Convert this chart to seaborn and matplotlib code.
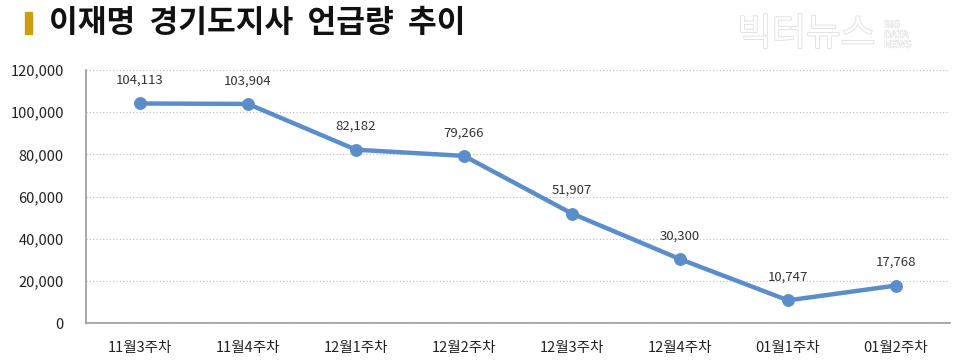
import matplotlib
matplotlib.use("Agg")
import matplotlib.pyplot as plt
import matplotlib.patheffects as pe
import seaborn as sns
import pandas as pd
import numpy as np

# chart data
weeks = ["11월3주차", "11월4주차", "12월1주차", "12월2주차",
         "12월3주차", "12월4주차", "01월1주차", "01월2주차"]
mentions = [104113, 103904, 82182, 79266, 51907, 30300, 10747, 17768]
y_ticks = [0, 20000, 40000, 60000, 80000, 100000, 120000]

sns.set_theme(style="white")
plt.rcParams["font.family"] = ["Noto Sans CJK KR", "DejaVu Sans"]

df = pd.DataFrame({"week": weeks, "count": mentions})
df["pos"] = np.arange(len(weeks))

fig = plt.figure(figsize=(9.6, 3.64), dpi=100)
ax = fig.add_axes([0.0896, 0.1126, 0.9, 0.6951])

line_color = "#5B8DCA"
sns.lineplot(data=df, x="pos", y="count", ax=ax, color=line_color,
             linewidth=3.2, marker="o", markersize=8.5,
             markeredgecolor=line_color, markerfacecolor=line_color)

for x, y in zip(df["pos"], df["count"]):
    ax.annotate(f"{y:,}", (x, y), xytext=(0, 12), textcoords="offset points",
                ha="center", va="bottom", fontsize=9.5, color="#333333")

ax.set_xlim(-0.5, len(weeks) - 0.5)
ax.set_ylim(0, 120000)
ax.set_yticks(y_ticks)
ax.set_yticklabels([f"{v:,}" for v in y_ticks], fontsize=10.5, color="#222222")
ax.set_xticks(df["pos"])
ax.set_xticklabels(weeks, fontsize=10.5, color="#222222")
ax.set_xticks(np.arange(-0.5, len(weeks)), minor=True)
ax.tick_params(axis="x", which="major", length=0, pad=13)
ax.tick_params(axis="x", which="minor", length=5, color="#999999", width=1, direction="out")
ax.tick_params(axis="y", length=4, color="#999999", width=1, direction="out", pad=12)
ax.set_xlabel("")
ax.set_ylabel("")

ax.yaxis.grid(True, linestyle=(0, (1, 2)), color="#BBBBBB", linewidth=0.8)
ax.set_axisbelow(True)
for side in ["top", "right"]:
    ax.spines[side].set_visible(False)
for side in ["left", "bottom"]:
    ax.spines[side].set_color("#999999")
    ax.spines[side].set_linewidth(1.2)

# title with gold marker
fig.patches.append(plt.Rectangle((0.026, 0.907), 0.007, 0.06, transform=fig.transFigure,
                                 color="#C9A011", zorder=5))
fig.text(0.051, 0.937, "이재명  경기도지사  언급량  추이", fontsize=22.5, fontweight="bold",
         color="#111111", va="center", ha="left")

# watermark (outlined)
outline = [pe.withStroke(linewidth=1.2, foreground="#DDDDDD")]
fig.text(0.768, 0.905, "빅터뉴스", fontsize=27, color="white",
         va="center", ha="left", path_effects=outline)
fig.text(0.921, 0.905, "BIG\nDATA\nNEWS", fontsize=7, color="white",
         va="center", ha="left", linespacing=1.0,
         path_effects=[pe.withStroke(linewidth=0.8, foreground="#DDDDDD")])

fig.savefig("out.png", dpi=100)
